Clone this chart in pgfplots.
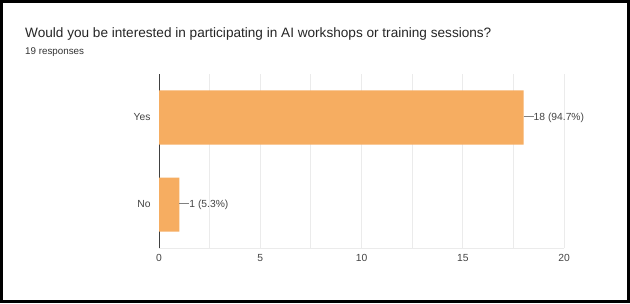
\documentclass[border=0pt]{standalone}
\usepackage{pgfplots}
\pgfplotsset{compat=1.18}
\usepackage{fontspec}
\setmainfont{Liberation Sans}
\definecolor{barc}{RGB}{246,173,97}
\definecolor{txt}{RGB}{68,68,68}
\definecolor{gridc}{RGB}{235,235,235}
\begin{document}
\begin{tikzpicture}[x=1bp,y=1bp]
\useasboundingbox (0,0) rectangle (630,303);
\fill[white] (0,0) rectangle (630,303);
\draw[line width=3bp] (1.5,1.5) rectangle (628.5,301.5);
\node[anchor=base west, font=\fontsize{13.6bp}{16bp}\selectfont, text=black!85, inner sep=0] at (25,265) {Would you be interested in participating in AI workshops or training sessions?};
\node[anchor=base west, font=\fontsize{9.8bp}{11bp}\selectfont, text=black!80, inner sep=0] at (25,248) {19 responses};
\begin{axis}[
  at={(159bp,55bp)}, anchor=south west,
  scale only axis, width=405bp, height=174bp,
  xmin=0, xmax=20, ymin=-0.5, ymax=1.5,
  xtick={0,5,10,15,20},
  minor xtick={2.5,7.5,12.5,17.5},
  ytick={0,1}, yticklabels={No,Yes},
  xmajorgrids, xminorgrids,
  major grid style={gridc, line width=0.8pt},
  minor grid style={gridc, line width=0.8pt},
  axis x line*=bottom, axis y line*=left,
  x axis line style={gridc, line width=0.8pt, -},
  y axis line style={black!75, line width=0.9pt, -},
  major tick length=0pt, minor tick length=0pt,
  tick label style={font=\fontsize{10.3bp}{12bp}\selectfont, text=txt},
  /pgf/number format/assume math mode=true,
  xticklabel style={yshift=-3bp},
  yticklabel style={xshift=-5bp},
  xbar, bar width=54bp, bar shift=0pt,
  nodes near coords,
  point meta=explicit symbolic,
  every node near coord/.append style={anchor=west, inner sep=0pt, xshift=0pt, font=\fontsize{10.3bp}{12bp}\selectfont, text=txt},
]
\addplot[draw=none, fill=barc] coordinates {(18,1) [{\textcolor{black!50}{\rule[0.6ex]{10bp}{0.6pt}}18 (94.7\%)}] (1,0) [{\textcolor{black!50}{\rule[0.6ex]{10bp}{0.6pt}}1 (5.3\%)}]};
\end{axis}
\end{tikzpicture}
\end{document}
